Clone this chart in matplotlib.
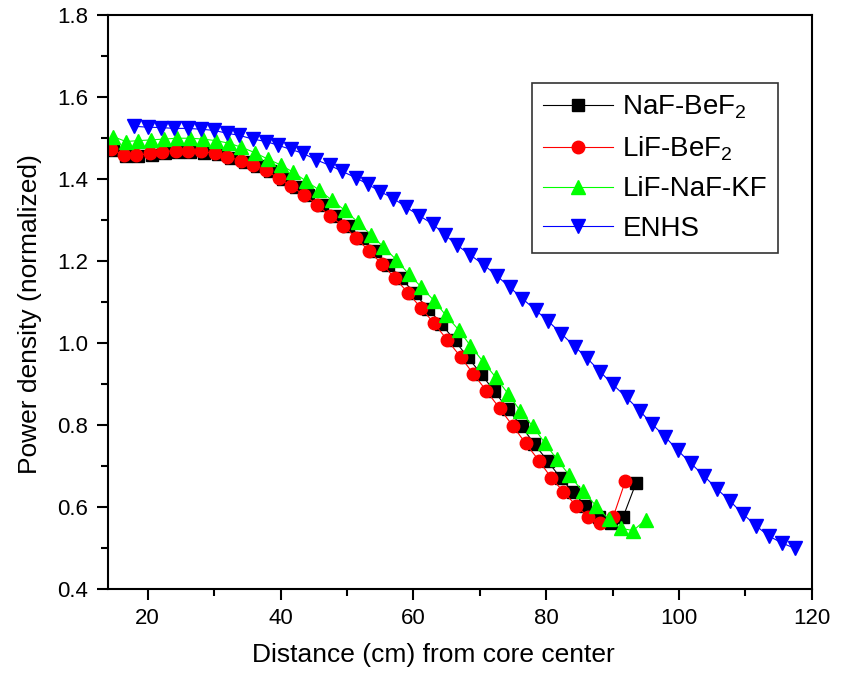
import matplotlib
matplotlib.use("Agg")
import matplotlib.pyplot as plt
from matplotlib.ticker import MultipleLocator

plt.rcParams['font.family'] = ['Liberation Sans', 'DejaVu Sans']
plt.rcParams['mathtext.fontset'] = 'custom'
plt.rcParams['mathtext.rm'] = 'Liberation Sans'
plt.rcParams['mathtext.it'] = 'Liberation Sans'

# ---- data ----
naf_x = [14.8, 16.7, 18.6, 20.6, 22.6, 24.6, 26.4, 28.5, 30.6, 32.5, 34.6, 36.4, 38.4, 40.4,
         42.3, 44.2, 46.3, 48.2, 50.2, 52.3, 54.2, 56.2, 58.2, 60.2, 62.2, 64.2, 66.2, 68.2,
         70.2, 72.2, 74.2, 76.3, 78.2, 80.2, 82.2, 84.0, 85.9, 87.9, 89.7, 91.6, 93.5]
naf_y = [1.470, 1.455, 1.455, 1.459, 1.463, 1.466, 1.466, 1.464, 1.460, 1.452, 1.442, 1.432,
         1.419, 1.400, 1.381, 1.360, 1.336, 1.309, 1.285, 1.255, 1.223, 1.191, 1.157, 1.121,
         1.083, 1.047, 1.006, 0.965, 0.924, 0.882, 0.839, 0.796, 0.754, 0.712, 0.670, 0.637,
         0.603, 0.576, 0.561, 0.576, 0.657]

lif_x = [14.5, 16.4, 18.3, 20.3, 22.2, 24.2, 26.0, 28.0, 30.1, 32.0, 34.0, 35.8, 37.8, 39.7,
         41.6, 43.5, 45.5, 47.4, 49.4, 51.4, 53.3, 55.3, 57.2, 59.2, 61.2, 63.1, 65.1, 67.1,
         69.0, 71.0, 73.0, 75.0, 76.9, 78.9, 80.8, 82.6, 84.5, 86.3, 88.1, 90.1, 91.9]
lif_y = [1.472, 1.458, 1.457, 1.462, 1.466, 1.469, 1.469, 1.467, 1.462, 1.454, 1.444, 1.434,
         1.421, 1.401, 1.382, 1.361, 1.337, 1.310, 1.286, 1.256, 1.224, 1.192, 1.158, 1.122,
         1.084, 1.048, 1.007, 0.966, 0.925, 0.883, 0.840, 0.797, 0.755, 0.713, 0.670, 0.637,
         0.603, 0.576, 0.561, 0.576, 0.662]

kf_x = [14.8, 16.7, 18.5, 20.5, 22.5, 24.4, 26.4, 28.3, 30.3, 32.2, 34.1, 36.1, 38.1, 40.0,
        41.9, 43.8, 45.8, 47.7, 49.7, 51.6, 53.6, 55.5, 57.4, 59.3, 61.2, 63.1, 64.9, 66.8,
        68.6, 70.5, 72.4, 74.3, 76.1, 78.0, 79.8, 81.6, 83.5, 85.5, 87.5, 89.4, 91.2, 93.1, 95.0]
kf_y = [1.503, 1.491, 1.493, 1.495, 1.497, 1.499, 1.499, 1.497, 1.493, 1.487, 1.477, 1.464,
        1.448, 1.434, 1.416, 1.395, 1.373, 1.348, 1.323, 1.295, 1.264, 1.234, 1.203, 1.168,
        1.136, 1.103, 1.067, 1.032, 0.993, 0.954, 0.916, 0.875, 0.834, 0.796, 0.756, 0.716,
        0.677, 0.638, 0.603, 0.570, 0.548, 0.542, 0.569]

enhs_x = [18.0, 20.0, 22.0, 24.0, 26.0, 28.0, 30.0, 32.0, 33.8, 35.8, 37.8, 39.6, 41.5, 43.4,
          45.4, 47.4, 49.3, 51.3, 53.1, 55.0, 57.0, 58.9, 60.9, 62.9, 64.7, 66.6, 68.6, 70.7,
          72.6, 74.5, 76.4, 78.4, 80.3, 82.3, 84.3, 86.2, 88.1, 90.0, 92.1, 94.1, 96.0, 97.9,
          99.8, 101.8, 103.8, 105.7, 107.7, 109.6, 111.6, 113.5, 115.5, 117.4]
enhs_y = [1.528, 1.526, 1.525, 1.523, 1.523, 1.521, 1.518, 1.511, 1.506, 1.497, 1.491, 1.482,
          1.472, 1.462, 1.446, 1.433, 1.418, 1.403, 1.387, 1.369, 1.352, 1.331, 1.310, 1.290,
          1.264, 1.238, 1.214, 1.189, 1.163, 1.136, 1.108, 1.080, 1.053, 1.022, 0.991, 0.962,
          0.930, 0.899, 0.867, 0.834, 0.801, 0.771, 0.738, 0.706, 0.675, 0.644, 0.614, 0.583,
          0.554, 0.529, 0.512, 0.499]

# ---- plot ----
fig = plt.figure(figsize=(8.43, 6.73), dpi=100)
ax = fig.add_axes([0.128, 0.125, 0.835, 0.853])

ax.plot(naf_x, naf_y, '-', color='black', lw=0.8, marker='s', ms=8, mfc='black', mec='black',
        label='NaF-BeF$_2$')
ax.plot(lif_x, lif_y, '-', color='red', lw=0.8, marker='o', ms=9, mfc='red', mec='red',
        label='LiF-BeF$_2$')
ax.plot(kf_x, kf_y, '-', color='#00ff00', lw=0.8, marker='^', ms=9.5, mfc='#00ff00', mec='#00ff00',
        label='LiF-NaF-KF')
ax.plot(enhs_x, enhs_y, '-', color='blue', lw=0.8, marker='v', ms=9.5, mfc='blue', mec='blue',
        label='ENHS')

ax.set_xlim(14, 120)
ax.set_ylim(0.4, 1.8)
ax.xaxis.set_major_locator(MultipleLocator(20))
ax.xaxis.set_minor_locator(MultipleLocator(10))
ax.yaxis.set_major_locator(MultipleLocator(0.2))
ax.yaxis.set_minor_locator(MultipleLocator(0.1))
ax.yaxis.set_major_formatter(plt.FormatStrFormatter('%.1f'))

ax.tick_params(which='both', direction='out', top=False, right=False, width=1.5, labelsize=16)
ax.tick_params(which='major', length=8, pad=6)
ax.tick_params(which='minor', length=5)
for s in ax.spines.values():
    s.set_linewidth(1.5)

ax.set_xlabel('Distance (cm) from core center', fontsize=19)
ax.set_ylabel('Power density (normalized)', fontsize=19)
ax.xaxis.set_label_coords(0.462, -0.095)
ax.yaxis.set_label_coords(-0.094, 0.478)

leg = ax.legend(loc='upper right', bbox_to_anchor=(0.952, 0.882), fontsize=20, frameon=True,
                fancybox=False, edgecolor='black', handlelength=2.5, handletextpad=0.35,
                borderpad=0.4, labelspacing=0.48, borderaxespad=0)
leg.get_frame().set_linewidth(1.2)

fig.savefig('out.png', dpi=100)
